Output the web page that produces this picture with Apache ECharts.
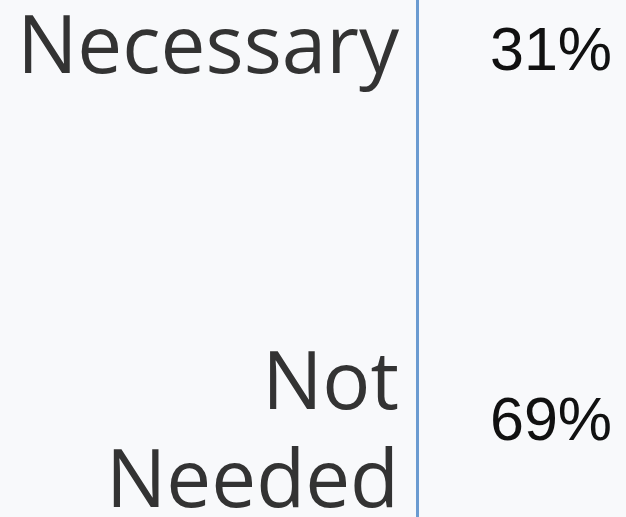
<!DOCTYPE html>
<html>
<head>
<meta charset="utf-8">
<script src="https://cdn.jsdelivr.net/npm/echarts@6/dist/echarts.min.js"></script>
<style>
html,body{margin:0;padding:0;background:#f8f9fb;}
#chart{width:626px;height:517px;}
</style>
</head>
<body>
<div id="chart"></div>
<script>
const categories = ["Necessary", "Not Needed"];
const values = [31, 69];

const chart = echarts.init(document.getElementById('chart'));
chart.setOption({
  backgroundColor: '#f8f9fb',
  animation: false,
  grid: { left: 417.5, right: 0, top: -135, bottom: -88, containLabel: false, outerBoundsMode: 'none' },
  xAxis: { type: 'value', min: 0, max: 100, show: false },
  yAxis: {
    type: 'category',
    data: categories,
    inverse: true,
    axisLine: { show: true, lineStyle: { color: '#6b9bd1', width: 3 } },
    axisTick: { show: false },
    splitLine: { show: false },
    axisLabel: {
      fontFamily: 'Open Sans',
      fontSize: 80,
      color: '#333333',
      margin: 18.5,
      lineHeight: 97,
      align: 'right',
      formatter: v => v.indexOf(' ') >= 0 ? '{s| }\n{t|' + v.replace(' ', '}\n{t|') + '}' : v,
      rich: {
        s: { fontSize: 1, lineHeight: 30, height: 30 },
        t: { fontFamily: 'Open Sans', fontSize: 80, lineHeight: 98, color: '#333333' }
      }
    }
  },
  series: [{
    type: 'bar',
    data: values,
    barWidth: 1,
    itemStyle: { color: 'rgba(0,0,0,0)' },
    label: {
      show: true,
      position: 'insideLeft',
      distance: 72.5,
      offset: [0, 3],
      formatter: p => p.value + '%',
      fontFamily: 'Liberation Sans',
      fontSize: 61,
      color: '#111111'
    }
  }]
});
</script>
</body>
</html>
